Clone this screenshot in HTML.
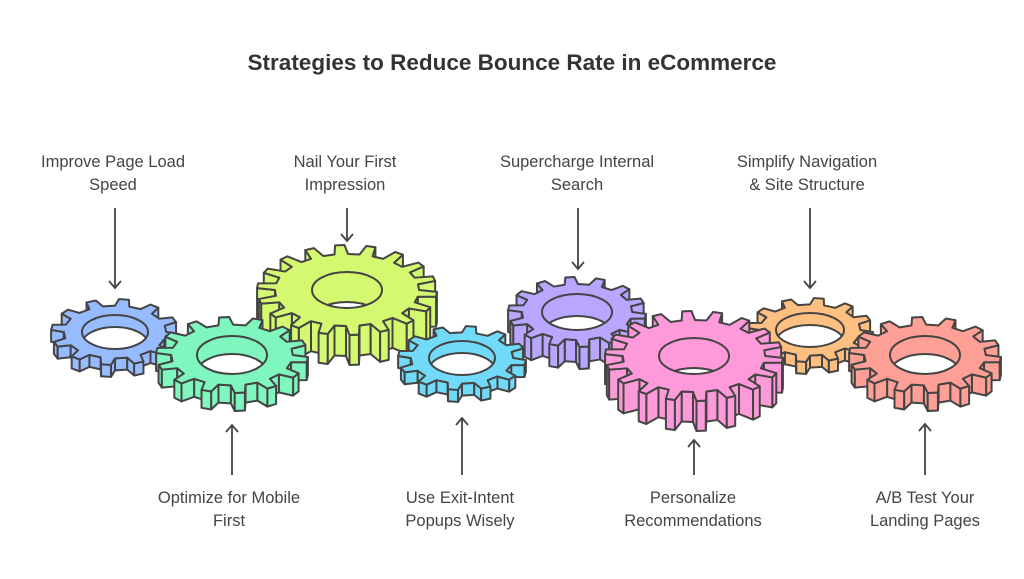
<!DOCTYPE html>
<html><head><meta charset="utf-8"><style>
html,body{margin:0;padding:0;background:#fff;}
body{width:1024px;height:579px;overflow:hidden;position:relative;font-family:"Liberation Sans",sans-serif;}
.t{position:absolute;width:220px;text-align:center;font-size:16.5px;line-height:23px;color:#444;}
h1{position:absolute;top:50px;left:0;width:1024px;margin:0;text-align:center;font-size:22.5px;font-weight:bold;color:#333;}
svg{position:absolute;left:0;top:0;}
</style></head><body>
<svg id="s" width="1024" height="579" viewBox="0 0 1024 579"></svg>
<h1>Strategies to Reduce Bounce Rate in eCommerce</h1>
<div class="t" style="left:3px;top:151px">Improve Page Load<br>Speed</div>
<div class="t" style="left:235px;top:151px">Nail Your First<br>Impression</div>
<div class="t" style="left:467px;top:151px">Supercharge Internal<br>Search</div>
<div class="t" style="left:697px;top:151px">Simplify Navigation<br>&amp; Site Structure</div>
<div class="t" style="left:119px;top:487px">Optimize for Mobile<br>First</div>
<div class="t" style="left:350px;top:487px">Use Exit-Intent<br>Popups Wisely</div>
<div class="t" style="left:583px;top:487px">Personalize<br>Recommendations</div>
<div class="t" style="left:815px;top:487px">A/B Test Your<br>Landing Pages</div>
<script>
var s=document.getElementById('s'),out='';
var ST='stroke="#444" stroke-width="2" stroke-linejoin="round"';
function gear(cx,cy,rx,ry,n,d,hx,hy,col,id){
 var pts=[],inr=0.8;
 for(var i=0;i<n;i++){var a=i*2*Math.PI/n,w=2*Math.PI/n;
  var A=[[a,inr],[a+w*0.12,1],[a+w*0.42,1],[a+w*0.54,inr]];
  A.forEach(function(p){pts.push([cx+rx*p[1]*Math.cos(p[0]),cy+ry*p[1]*Math.sin(p[0])]);});}
 var g='',quads=[];
 for(var i=0;i<pts.length;i++){var p=pts[i],q=pts[(i+1)%pts.length];
  var dx=q[0]-p[0],dy=q[1]-p[1],nx=dy,ny=-dx,mx=(p[0]+q[0])/2-cx,my=(p[1]+q[1])/2-cy;
  if(nx*mx+ny*my<0){nx=-nx;ny=-ny;}
  if(ny<=0.01) continue;
  quads.push({y:(p[1]+q[1])/2,s:'<polygon points="'+p[0]+','+p[1]+' '+q[0]+','+q[1]+' '+q[0]+','+(q[1]+d)+' '+p[0]+','+(p[1]+d)+'" fill="'+col+'" '+ST+'/>'});}
 quads.sort(function(a,b){return a.y-b.y});
 quads.forEach(function(q){g+=q.s;});
 g+='<polygon points="'+pts.map(function(p){return p[0]+','+p[1]}).join(' ')+'" fill="'+col+'" '+ST+'/>';
 g+='<clipPath id="c'+id+'"><ellipse cx="'+cx+'" cy="'+cy+'" rx="'+hx+'" ry="'+hy+'"/></clipPath>';
 g+='<ellipse cx="'+cx+'" cy="'+(cy+d)+'" rx="'+hx+'" ry="'+hy+'" fill="#fff" '+ST+' clip-path="url(#c'+id+')"/>';
 g+='<ellipse cx="'+cx+'" cy="'+cy+'" rx="'+hx+'" ry="'+hy+'" fill="none" '+ST+'/>';
 out+=g;
}
gear(115,332,64,33,12,12,33,17,'#96bbff',1);
gear(347,290,90,45,18,30,35,18,'#d4f870',2);
gear(577,312,69,35,14,22,35,18,'#b8a6ff',3);
gear(810,330,63,32,12,12,34,17,'#ffbf80',4);
gear(232,355,76,38,14,18,35,19,'#80f6bf',5);
gear(462,358,64,32,12,12,33,17,'#70daf8',6);
gear(694,356,89,45,18,30,35,18,'#ff9ada',7);
gear(925,355,76,38,14,18,35,19,'#ffa096',8);
function arr(x,y1,y2){var dir=y2>y1?-1:1;
 out+='<line x1="'+x+'" y1="'+y1+'" x2="'+x+'" y2="'+y2+'" stroke="#444" stroke-width="1.8"/>';
 out+='<polyline points="'+(x-6)+','+(y2+dir*7)+' '+x+','+y2+' '+(x+6)+','+(y2+dir*7)+'" fill="none" stroke="#444" stroke-width="1.8"/>';}
arr(115,208,288);arr(347,208,241);arr(578,208,269);arr(810,208,288);
arr(232,475,425);arr(462,475,418);arr(694,475,440);arr(925,475,424);
s.innerHTML=out;
</script>
</body></html>
